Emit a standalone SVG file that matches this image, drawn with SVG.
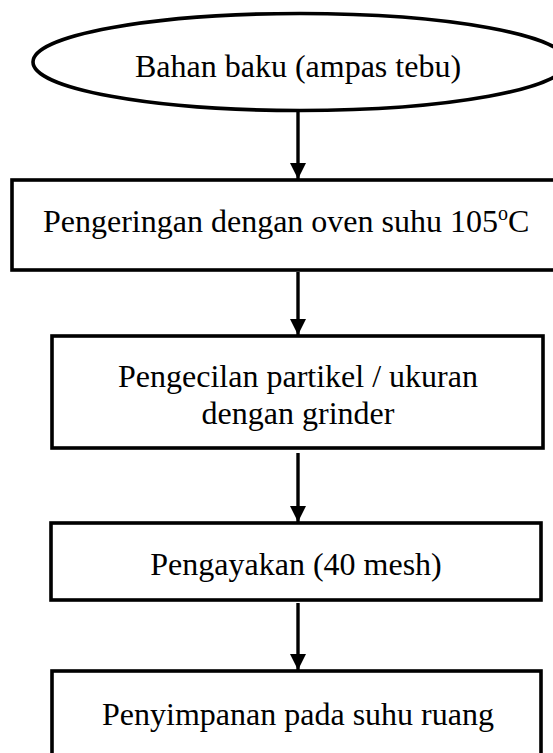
<svg xmlns="http://www.w3.org/2000/svg" width="553" height="753" viewBox="0 0 553 753">
<style>
.shape{fill:#fff;stroke:#000;stroke-width:3.6}
.lbl{font-family:"Liberation Serif","Times New Roman",serif;font-size:32px;fill:#000}
.mid{text-anchor:middle}
.conn{stroke:#000;stroke-width:3.4;fill:none}
</style>
<defs>
<marker id="ah" markerUnits="userSpaceOnUse" markerWidth="18" markerHeight="18" refX="16" refY="8" orient="auto">
<path d="M0,0 L16,8 L0,16 Z" fill="#000"/>
</marker>
</defs>
<rect width="553" height="753" fill="#fff"/>
<g id="node-bahan">
<ellipse class="shape" cx="300" cy="62" rx="267" ry="48.5"/>
<text class="lbl mid" x="298" y="77">Bahan baku (ampas tebu)</text>
</g>
<g id="node-pengeringan">
<rect class="shape" x="12" y="180" width="580" height="90"/>
<text class="lbl" x="43" y="232">Pengeringan dengan oven suhu 105<tspan font-size="20" dy="-12">o</tspan><tspan dy="12">C</tspan></text>
</g>
<g id="node-pengecilan">
<rect class="shape" x="52" y="336" width="491" height="112"/>
<text class="lbl mid" x="298" y="387">Pengecilan partikel / ukuran</text>
<text class="lbl mid" x="298" y="424">dengan grinder</text>
</g>
<g id="node-pengayakan">
<rect class="shape" x="51" y="523" width="490" height="77"/>
<text class="lbl mid" x="296" y="575">Pengayakan (40 mesh)</text>
</g>
<g id="node-penyimpanan">
<rect class="shape" x="52" y="671" width="489" height="110"/>
<text class="lbl mid" x="298" y="725">Penyimpanan pada suhu ruang</text>
</g>
<g id="connectors">
<line class="conn" x1="298" y1="110" x2="298" y2="179" marker-end="url(#ah)"/>
<line class="conn" x1="298" y1="272" x2="298" y2="335" marker-end="url(#ah)"/>
<line class="conn" x1="298" y1="453" x2="298" y2="522" marker-end="url(#ah)"/>
<line class="conn" x1="298" y1="603" x2="298" y2="670" marker-end="url(#ah)"/>
</g>
</svg>
